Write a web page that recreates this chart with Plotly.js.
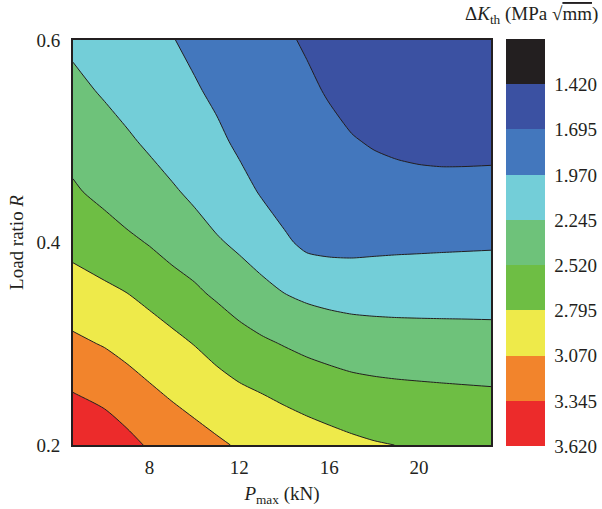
<!DOCTYPE html>
<html>
<head>
<meta charset="utf-8">
<script src="https://cdn.plot.ly/plotly-3.0.1.min.js"></script>
<style>html,body{margin:0;padding:0;background:#fff;}</style>
</head>
<body>
<div id="chart" style="width:602px;height:509px;"></div>
<script>
// P_max (kN) grid columns
const pmax = [4.6, 6, 7, 8, 9, 10, 11, 12, 13, 14, 15, 16, 17, 18, 19, 20, 21, 22, 23.2];
// Load ratio R grid rows
const ratio = [0.20, 0.25, 0.30, 0.35, 0.40, 0.45, 0.50, 0.55, 0.60];
// Delta K_th values (one row per R value)
const dK_R020 = [3.585, 3.508, 3.418, 3.317, 3.235, 3.170, 3.108, 3.045, 3.020, 2.980, 2.930, 2.885, 2.845, 2.813, 2.793, 2.776, 2.759, 2.744, 2.731];
const dK_R025 = [3.354, 3.280, 3.196, 3.114, 3.044, 2.980, 2.911, 2.848, 2.799, 2.744, 2.695, 2.656, 2.622, 2.602, 2.588, 2.578, 2.569, 2.561, 2.552];
const dK_R030 = [3.122, 3.053, 2.988, 2.926, 2.862, 2.788, 2.703, 2.623, 2.560, 2.507, 2.458, 2.421, 2.390, 2.373, 2.363, 2.357, 2.352, 2.348, 2.343];
const dK_R035 = [2.909, 2.845, 2.796, 2.728, 2.648, 2.562, 2.480, 2.393, 2.313, 2.245, 2.191, 2.159, 2.142, 2.137, 2.135, 2.135, 2.136, 2.137, 2.137];
const dK_R040 = [2.719, 2.646, 2.577, 2.504, 2.417, 2.372, 2.273, 2.197, 2.119, 2.012, 1.914, 1.894, 1.894, 1.907, 1.917, 1.923, 1.929, 1.934, 1.940];
const dK_R045 = [2.553, 2.450, 2.360, 2.354, 2.280, 2.190, 2.100, 2.058, 1.947, 1.850, 1.884, 1.854, 1.824, 1.803, 1.789, 1.780, 1.775, 1.777, 1.781];
const dK_R050 = [2.426, 2.346, 2.281, 2.204, 2.111, 2.080, 2.028, 1.920, 1.890, 1.820, 1.812, 1.763, 1.712, 1.672, 1.643, 1.623, 1.614, 1.613, 1.617];
const dK_R055 = [2.309, 2.218, 2.143, 2.120, 2.060, 2.002, 1.912, 1.870, 1.835, 1.765, 1.740, 1.673, 1.601, 1.600, 1.585, 1.565, 1.555, 1.555, 1.560];
const dK_R060 = [2.195, 2.150, 2.095, 2.040, 1.984, 1.896, 1.860, 1.825, 1.780, 1.730, 1.667, 1.600, 1.545, 1.535, 1.530, 1.515, 1.505, 1.505, 1.510];
// colour bar tick labels (band boundaries)
const cbTicks = [1.420, 1.695, 1.970, 2.245, 2.520, 2.795, 3.070, 3.345, 3.620];
const levelStep = 0.275;
// band colours, from high Delta K (red) to low (black)
const bandColors = ['#EC2B2B', '#F2842C', '#EEEA4A', '#6EBE44', '#6EC27A', '#73CED8', '#4377BD', '#3B51A2', '#231F20'];

const dK = [dK_R020, dK_R025, dK_R030, dK_R035, dK_R040, dK_R045, dK_R050, dK_R055, dK_R060];
// the colour bar runs with high values at the bottom, so plot the negated value
const zPlot = dK.map(r => r.map(v => -v));

const nb = bandColors.length;
const fillScale = bandColors.map((c, i) => [i / (nb - 1), c]);
const stepScale = [];
bandColors.forEach((c, i) => { stepScale.push([i / nb, c]); stepScale.push([(i + 1) / nb, c]); });

const serif = 'Liberation Serif, Times New Roman, serif';
const ink = '#231F20';

const contour = {
  type: 'contour', x: pmax, y: ratio, z: zPlot,
  autocontour: false,
  contours: { start: -cbTicks[7], end: -cbTicks[0], size: levelStep, coloring: 'fill', showlines: true },
  line: { color: ink, width: 1, smoothing: 0.7 },
  colorscale: fillScale, showscale: false, hoverinfo: 'skip'
};

const cbar = {
  type: 'scatter', mode: 'markers', x: [pmax[0]], y: [ratio[0]],
  hoverinfo: 'skip', showlegend: false,
  marker: {
    color: [-cbTicks[8]], cmin: -cbTicks[8], cmax: -(cbTicks[0] - levelStep),
    colorscale: stepScale, showscale: true, opacity: 0, size: 1,
    colorbar: {
      x: 1.0359, xanchor: 'left', xpad: 0, y: 1.002, yanchor: 'top', ypad: 0,
      len: 1.005, lenmode: 'fraction', thickness: 39, thicknessmode: 'pixels',
      outlinewidth: 0, ticks: 'outside', ticklen: 6, tickcolor: 'rgba(0,0,0,0)',
      tickvals: cbTicks.map(v => -v), ticktext: cbTicks.map(v => v.toFixed(3)),
      tickfont: { family: serif, size: 19, color: ink }
    }
  }
};

const layout = {
  width: 602, height: 509,
  margin: { l: 73, r: 111, t: 40, b: 64, autoexpand: false },
  paper_bgcolor: '#ffffff', plot_bgcolor: '#ffffff',
  showlegend: false,
  xaxis: {
    range: [4.6, 23.2], tickvals: [8, 12, 16, 20], showgrid: false, zeroline: false,
    showline: true, linewidth: 2, linecolor: ink, mirror: true,
    ticks: 'outside', ticklen: 4, tickcolor: 'rgba(0,0,0,0)',
    tickfont: { family: serif, size: 19, color: ink },
    title: { text: '<i>P</i><sub>max</sub> (kN)', font: { family: serif, size: 19, color: ink }, standoff: 10 }
  },
  yaxis: {
    range: [0.2, 0.6], tickvals: [0.2, 0.4, 0.6], tickformat: '.1f', showgrid: false, zeroline: false,
    showline: true, linewidth: 2, linecolor: ink, mirror: true,
    ticks: 'outside', ticklen: 7, tickcolor: 'rgba(0,0,0,0)',
    tickfont: { family: serif, size: 19, color: ink },
    title: { text: 'Load ratio <i>R</i>', font: { family: serif, size: 19, color: ink }, standoff: 8 }
  },
  annotations: [{
    xref: 'paper', yref: 'paper', x: 1.2608, y: 1.062, xanchor: 'right', yanchor: 'middle',
    showarrow: false,
    text: 'Δ<i>K</i><sub>th</sub> (MPa √<span style="text-decoration:overline">mm</span>)',
    font: { family: serif, size: 19, color: ink }
  }]
};

Plotly.newPlot('chart', [contour, cbar], layout, { displayModeBar: false, staticPlot: true });
</script>
</body>
</html>
